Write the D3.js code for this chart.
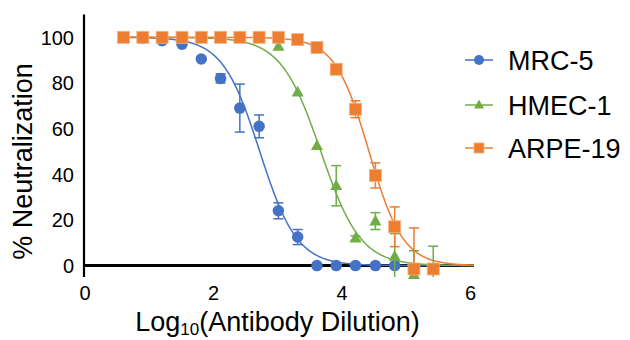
<!DOCTYPE html>
<html>
<head>
<meta charset="utf-8">
<script src="https://cdn.jsdelivr.net/npm/d3@7"></script>
<style>
  html, body { margin: 0; padding: 0; background: #fff; }
  svg { display: block; font-family: "Liberation Sans", Arial, sans-serif; }
</style>
</head>
<body>
<svg id="chart" width="630" height="340"></svg>
<script>
// Log10 of the two-fold antibody dilution series
const logDilution = [0.60, 0.90, 1.20, 1.51, 1.81, 2.11, 2.41, 2.71, 3.01, 3.31, 3.61, 3.91, 4.21, 4.52, 4.82, 5.12, 5.42];

// % neutralization (mean) and error (±) per cell line
const mrc5 = [100, 99.5, 98.5, 97, 90.5, 82, 69, 61, 24, 12.5, 0, 0, 0, 0, 0];
const mrc5Err = [0, 0, 0, 0, 0, 2, 10.5, 5, 3.5, 3.3, 0, 0, 0, 0, 0];

const hmec1 = [100, 100, 100, 100, 100, 100, 100, 100, 96, 76, 52.5, 35, 12, 19.5, 4, -4, -1.5];
const hmec1Err = [0, 0, 0, 0, 0, 0, 0, 0, 0, 0, 0, 8.8, 1, 3.7, 10, 10.5, 10];

const arpe19 = [100, 100, 100, 100, 100, 100, 100, 100, 100, 99, 95.5, 86, 68.5, 39.5, 17, -1.5, -1.5];
const arpe19Err = [0, 0, 0, 0, 0, 0, 0, 0, 0, 0, 0, 0, 3.7, 5.5, 8.7, 18, 0];

// Four-parameter logistic fits: [top, bottom, logIC50, hill slope]
const mrc5Fit = [100, 0, 2.72, 1.5];
const hmec1Fit = [100, 0, 3.67, 1.4];
const arpe19Fit = [100, 0, 4.42, 1.64];

const xTicks = [0, 2, 4, 6];
const yTicks = [0, 20, 40, 60, 80, 100];

const seriesNames = ["MRC-5", "HMEC-1", "ARPE-19"];
const colors = ["#4472C4", "#70AD47", "#ED7D31"];
const shapes = ["circle", "triangle", "square"];

const series = [
  { name: seriesNames[0], y: mrc5, err: mrc5Err, fit: mrc5Fit },
  { name: seriesNames[1], y: hmec1, err: hmec1Err, fit: hmec1Fit },
  { name: seriesNames[2], y: arpe19, err: arpe19Err, fit: arpe19Fit }
];

const svg = d3.select("#chart");

const x = d3.scaleLinear().domain([0, 6]).range([85, 470.5]);
const y = d3.scaleLinear().domain([-5, 110]).range([277, 14.5]);
const yMin = -5;

const logistic = (p, v) => p[1] + (p[0] - p[1]) / (1 + Math.pow(10, (v - p[2]) * p[3]));

// Axis lines
svg.append("line")
  .attr("x1", x(0) - 1).attr("x2", x(0) - 1)
  .attr("y1", y(110)).attr("y2", y(-5))
  .attr("stroke", "#000").attr("stroke-width", 2.2);

svg.append("line")
  .attr("x1", x(0) - 1).attr("x2", x(6.05))
  .attr("y1", y(0)).attr("y2", y(0))
  .attr("stroke", "#000").attr("stroke-width", 3);

// Tick labels
svg.append("g").selectAll("text").data(yTicks).join("text")
  .attr("x", 74).attr("y", d => y(d) + 7.3)
  .attr("text-anchor", "end")
  .attr("font-size", 20).attr("fill", "#000")
  .text(d => d);

svg.append("g").selectAll("text").data(xTicks).join("text")
  .attr("x", d => x(d)).attr("y", 300)
  .attr("text-anchor", "middle")
  .attr("font-size", 20).attr("fill", "#000")
  .text(d => d);

// Axis titles
const xt = svg.append("text")
  .attr("x", 277.5).attr("y", 331)
  .attr("text-anchor", "middle")
  .attr("font-size", 27).attr("fill", "#000");
xt.append("tspan").text("Log");
xt.append("tspan").attr("font-size", 17).attr("dy", 4).text("10");
xt.append("tspan").attr("dy", -4).text("(Antibody Dilution)");

svg.append("text")
  .attr("transform", "translate(32,161.5) rotate(-90)")
  .attr("text-anchor", "middle")
  .attr("font-size", 27).attr("fill", "#000")
  .text("% Neutralization");

// Marker drawing helper
function marker(g, shape, cx, cy, color, size) {
  if (shape === "circle") {
    g.append("circle").attr("cx", cx).attr("cy", cy).attr("r", size / 2)
      .attr("fill", color);
  } else if (shape === "square") {
    g.append("rect").attr("x", cx - size / 2).attr("y", cy - size / 2)
      .attr("width", size).attr("height", size)
      .attr("fill", color).attr("stroke", "#F4B183").attr("stroke-width", 0.8);
  } else {
    const h = size * 0.9;
    g.append("path")
      .attr("d", `M${cx},${cy - h * 0.6}L${cx + size / 2},${cy + h * 0.4}L${cx - size / 2},${cy + h * 0.4}Z`)
      .attr("fill", color);
  }
}

// Fitted curves
const curveX = d3.range(0.6, 6.0501, 0.01);
const line = d3.line().x(d => x(d[0])).y(d => y(d[1])).curve(d3.curveLinear);

series.forEach((s, i) => {
  svg.append("path")
    .datum(curveX.map(v => [v, logistic(s.fit, v)]))
    .attr("d", line)
    .attr("fill", "none")
    .attr("stroke", colors[i])
    .attr("stroke-width", 1.5);
});

// Error bars and points
series.forEach((s, i) => {
  const g = svg.append("g");
  const cap = 5;
  s.y.forEach((v, k) => {
    const e = s.err[k];
    if (e > 0) {
      const cx = x(logDilution[k]);
      const top = y(v + e);
      const bot = y(Math.max(v - e, yMin));
      g.append("line").attr("x1", cx).attr("x2", cx).attr("y1", top).attr("y2", bot)
        .attr("stroke", colors[i]).attr("stroke-width", 1.5);
      g.append("line").attr("x1", cx - cap).attr("x2", cx + cap).attr("y1", top).attr("y2", top)
        .attr("stroke", colors[i]).attr("stroke-width", 1.5);
      if (v - e >= yMin) {
        g.append("line").attr("x1", cx - cap).attr("x2", cx + cap).attr("y1", bot).attr("y2", bot)
          .attr("stroke", colors[i]).attr("stroke-width", 1.5);
      }
    }
  });
  s.y.forEach((v, k) => {
    marker(g, shapes[i], x(logDilution[k]), y(v), colors[i], shapes[i] === "circle" ? 11.5 : 12);
  });
});

// Legend
const legend = svg.append("g");
const legendY = [60, 105, 148];
series.forEach((s, i) => {
  const ly = legendY[i];
  legend.append("line").attr("x1", 465).attr("x2", 493).attr("y1", ly).attr("y2", ly)
    .attr("stroke", colors[i]).attr("stroke-width", 1.5);
  marker(legend, shapes[i], 479, ly, colors[i], 10);
  legend.append("text").attr("x", 508).attr("y", ly + 9.5)
    .attr("font-size", 27).attr("fill", "#000")
    .text(s.name);
});
</script>
</body>
</html>
